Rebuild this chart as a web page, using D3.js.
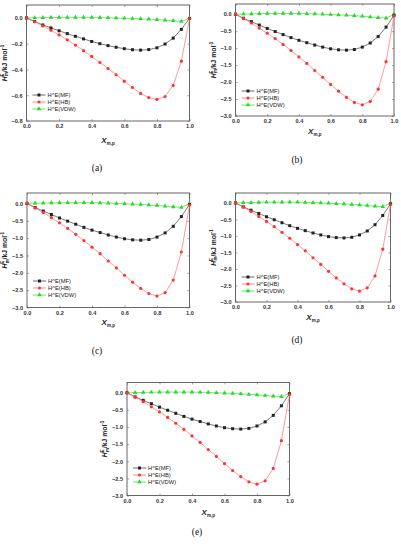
<!DOCTYPE html>
<html>
<head>
<meta charset="utf-8">
<title>Excess enthalpy panels</title>
<script src="https://d3js.org/d3.v7.min.js"></script>
<style>
  body { margin: 0; background: #fff; }
  svg text { font-family: "Liberation Sans", Arial, sans-serif; }
</style>
</head>
<body>
<div id="chart"></div>
<script>
// mole fraction grid
const xMole = [0.0, 0.05, 0.1, 0.15, 0.2, 0.25, 0.3, 0.35, 0.4, 0.45, 0.5,
               0.55, 0.6, 0.65, 0.7, 0.75, 0.8, 0.85, 0.9, 0.95, 1.0];
const xTicks = [0.0, 0.2, 0.4, 0.6, 0.8, 1.0];
const yTicksA = [0.0, -0.2, -0.4, -0.6, -0.8];
const yTicksB = [0.0, -0.5, -1.0, -1.5, -2.0, -2.5, -3.0];
const seriesNames = ["H^E(MF)", "H^E(HB)", "H^E(VDW)"];
const captions = ["(a)", "(b)", "(c)", "(d)", "(e)"];

// panel (a)
const mfA  = [0, -0.028, -0.055, -0.078, -0.1, -0.122, -0.143, -0.163, -0.183, -0.2, -0.215,
              -0.228, -0.239, -0.247, -0.25, -0.246, -0.232, -0.203, -0.157, -0.089, -0.004];
const hbA  = [0, -0.03, -0.062, -0.096, -0.132, -0.17, -0.211, -0.254, -0.299, -0.346, -0.393,
              -0.441, -0.491, -0.54, -0.586, -0.618, -0.632, -0.61, -0.524, -0.336, -0.005];
const vdwA = [0, 0.001, 0.002, 0.003, 0.003, 0.004, 0.004, 0.004, 0.003, 0.002, 0.001,
              -0.001, -0.003, -0.005, -0.007, -0.01, -0.013, -0.017, -0.022, -0.027, -0.003];

// panels (b) - (e) look the same
const mfB  = [0, -0.12, -0.22, -0.32, -0.42, -0.51, -0.6, -0.69, -0.77, -0.84, -0.91,
              -0.97, -1.02, -1.05, -1.06, -1.04, -0.97, -0.85, -0.66, -0.38, -0.03];
const hbB  = [0, -0.13, -0.26, -0.41, -0.56, -0.72, -0.89, -1.07, -1.26, -1.45, -1.66,
              -1.86, -2.07, -2.27, -2.45, -2.6, -2.67, -2.57, -2.21, -1.4, -0.05];
const vdwB = [0, 0.005, 0.01, 0.015, 0.02, 0.02, 0.02, 0.02, 0.02, 0.015, 0.01,
              0.0, -0.01, -0.02, -0.03, -0.045, -0.06, -0.08, -0.1, -0.115, -0.01];

const colors = ["#222", "#ff3333", "#22dd22"];
const lineColors = ["#444", "#ff7070", "#44dd44"];

// layout of each panel on the page
const panels = [
  { l: 26.5, r: 189.5, t: 5,   b: 121,   dom: [-0.8, 0.1], ticks: yTicksA, data: [mfA, hbA, vdwA], xl: 143, cap: 171, cx: 97,  legY: 95 },
  { l: 235.5, r: 394,  t: 4,   b: 116,   dom: [-3, 0.3], ticks: yTicksB, data: [mfB, hbB, vdwB], xl: 134, cap: 163, cx: 297, legY: 91 },
  { l: 27,   r: 189.5, t: 193, b: 307.5, dom: [-3, 0.3], ticks: yTicksB, data: [mfB, hbB, vdwB], xl: 325, cap: 354, cx: 97,  legY: 281 },
  { l: 235.5, r: 390.5, t: 193, b: 302,  dom: [-3, 0.3], ticks: yTicksB, data: [mfB, hbB, vdwB], xl: 320, cap: 343, cx: 297, legY: 277 },
  { l: 127,  r: 289.5, t: 382.5, b: 495.5, dom: [-3, 0.3], ticks: yTicksB, data: [mfB, hbB, vdwB], xl: 515, cap: 535, cx: 197, legY: 468 }
];

const svg = d3.select("#chart")
  .append("svg")
  .attr("width", 401)
  .attr("height", 550);

function marker(g, i, x, y) {
  if (i === 0) {
    g.append("rect").attr("x", x - 1.5).attr("y", y - 1.5)
      .attr("width", 3).attr("height", 3).attr("fill", colors[0]);
  } else if (i === 1) {
    g.append("circle").attr("cx", x).attr("cy", y).attr("r", 1.6).attr("fill", colors[1]);
  } else {
    g.append("path").attr("d", d3.symbol().type(d3.symbolTriangle).size(9)())
      .attr("transform", `translate(${x},${y})`).attr("fill", colors[2]);
  }
}

panels.forEach((p, k) => {
  const x = d3.scaleLinear().domain([0, 1]).range([p.l, p.r]);
  const y = d3.scaleLinear().domain(p.dom).range([p.b, p.t]);
  const g = svg.append("g");

  // frame
  g.append("rect")
    .attr("x", p.l).attr("y", p.t)
    .attr("width", p.r - p.l).attr("height", p.b - p.t)
    .attr("fill", "none").attr("stroke", "#666").attr("stroke-width", 1);

  // axes
  const ax = g.append("g").attr("transform", `translate(0,${p.b})`)
    .call(d3.axisBottom(x).tickValues(xTicks).tickFormat(d3.format(".1f"))
      .tickSizeInner(-2).tickSizeOuter(0).tickPadding(4));
  const ay = g.append("g").attr("transform", `translate(${p.l},0)`)
    .call(d3.axisLeft(y).tickValues(p.ticks).tickFormat(d3.format(".1f"))
      .tickSizeInner(-2).tickSizeOuter(0).tickPadding(4));
  g.append("g").attr("transform", `translate(0,${p.t})`)
    .call(d3.axisTop(x).tickValues(xTicks).tickFormat("").tickSizeInner(-2).tickSizeOuter(0));
  g.append("g").attr("transform", `translate(${p.r},0)`)
    .call(d3.axisRight(y).tickValues(p.ticks).tickFormat("").tickSizeInner(-2).tickSizeOuter(0));
  g.selectAll(".domain").remove();
  g.selectAll(".tick line").attr("stroke", "#666").attr("stroke-width", 0.6);
  [ax, ay].forEach(a => a.selectAll("text")
    .attr("font-size", 5.6).attr("font-weight", "bold").attr("fill", "#333"));
  ax.selectAll("text").attr("dy", "0.6em");

  // series
  const line = d3.line().x((d, j) => x(xMole[j])).y(d => y(d));
  [2, 0, 1].forEach(i => {
    g.append("path").datum(p.data[i])
      .attr("d", line).attr("fill", "none")
      .attr("stroke", lineColors[i]).attr("stroke-width", 0.7);
    p.data[i].forEach((v, j) => marker(g, i, x(xMole[j]), y(v)));
  });

  // legend
  seriesNames.forEach((name, i) => {
    const ly = p.legY + i * 7;
    const lx = p.l + 6;
    g.append("line").attr("x1", lx).attr("x2", lx + 13).attr("y1", ly).attr("y2", ly)
      .attr("stroke", lineColors[i]).attr("stroke-width", 0.8);
    marker(g, i, lx + 6.5, ly);
    g.append("text").attr("x", lx + 15).attr("y", ly + 2)
      .attr("font-size", 5.8).attr("fill", "#222").text(name);
  });

  // y label
  const yl = g.append("text")
    .attr("transform", `translate(${p.l - 20},${(p.t + p.b) / 2}) rotate(-90)`)
    .attr("text-anchor", "middle").attr("font-size", 6.8).attr("font-weight", "bold").attr("fill", "#222");
  yl.append("tspan").attr("font-style", "italic").text("H");
  yl.append("tspan").attr("font-size", 4.5).attr("dy", -2.7).text("E");
  yl.append("tspan").attr("font-size", 4.5).attr("dy", 4.3).attr("dx", -2.7).text("m");
  yl.append("tspan").attr("dy", -1.6).text("/kJ mol");
  yl.append("tspan").attr("font-size", 4.5).attr("dy", -2.7).text("-1");

  // x label
  const xlab = g.append("text")
    .attr("x", (p.l + p.r) / 2).attr("y", p.xl)
    .attr("text-anchor", "middle").attr("font-size", 8).attr("font-weight", "bold").attr("fill", "#222");
  xlab.append("tspan").attr("font-style", "italic").text("X");
  xlab.append("tspan").attr("font-size", 4.5).attr("dy", 2).text("m,p");

  // caption
  g.append("text").attr("x", p.cx).attr("y", p.cap)
    .attr("text-anchor", "middle").attr("font-size", 9.5)
    .style("font-family", "'Liberation Serif', 'DejaVu Serif', serif")
    .attr("fill", "#111").text(captions[k]);
});
</script>
</body>
</html>
